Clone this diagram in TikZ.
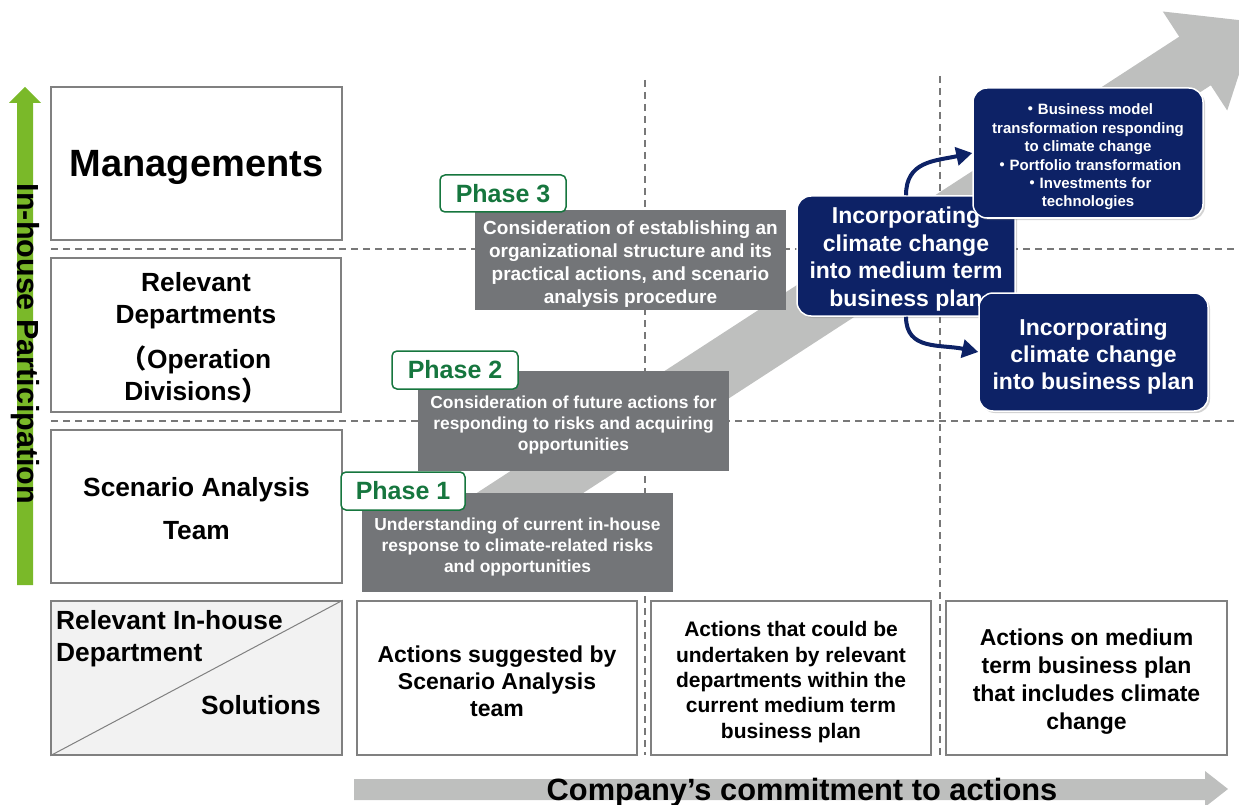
\documentclass[tikz,border=0pt]{standalone}
\usepackage{fontspec}
\setmainfont{Liberation Sans}
\newfontfamily\cjk{Noto Sans CJK JP}
\usetikzlibrary{arrows.meta,shadows}
\definecolor{boxgray}{RGB}{128,128,128}
\definecolor{dashgray}{RGB}{120,120,120}
\definecolor{phasegray}{RGB}{115,117,120}
\definecolor{phasegreen}{RGB}{22,118,62}
\definecolor{leafgreen}{RGB}{122,185,41}
\definecolor{navy}{RGB}{13,34,102}
\definecolor{arrowgray}{RGB}{190,191,190}
\definecolor{cellgray}{RGB}{242,242,242}
\tikzset{
  lbox/.style={draw=boxgray, line width=1.5pt, fill=white, inner sep=0pt},
  txt/.style={inner sep=0pt, align=center},
  dashline/.style={draw=dashgray, line width=1.3pt, dash pattern=on 7pt off 5pt},
  pgray/.style={fill=phasegray, inner sep=0pt},
  wtxt/.style={txt, text=white},
  plabel/.style={draw=phasegreen, line width=1.5pt, fill=white, rounded corners=5pt, text=phasegreen, inner sep=0pt, font={\fontsize{25}{30}\selectfont\bfseries}},
  nbox/.style={fill=navy, draw=white, line width=1.5pt, rounded corners=14pt, inner sep=0pt, drop shadow={opacity=0.35, shadow xshift=2pt, shadow yshift=-2pt}},
  navyarr/.style={draw=navy, line width=4pt, -{Triangle[length=16pt,width=18pt]}},
  fbig/.style={font={\fontsize{38}{44}\selectfont\bfseries}},
  fleft/.style={font={\fontsize{26.3}{32}\selectfont\bfseries}},
}
\begin{document}
\begin{tikzpicture}[x=1pt,y=-1pt]
\useasboundingbox (0,0) rectangle (1239,805);
\clip (0,0) rectangle (1239,805);
% big diagonal arrow
\fill[arrowgray] (457.2,505.7) -- (1179.2,36.7) -- (1162.8,11.5) -- (1256,22) -- (1227.2,110.5) -- (1210.8,85.3) -- (488.8,554.3) -- cycle;
% green vertical arrow
\fill[leafgreen] (17,585) -- (17,103) -- (9,103) -- (25,87) -- (41,103) -- (33,103) -- (33,585) -- cycle;
% dashed grid
\draw[dashline] (51,249) -- (1239,249);
\draw[dashline] (51,421) -- (1239,421);
\draw[dashline] (645,80) -- (645,755);
\draw[dashline] (940,76) -- (940,755);
% left column
\node[lbox, minimum width=291pt, minimum height=153pt] (mgmt) at (196.5,163.5) {};
\node[txt, fbig] (mgmtT) at ([yshift=-4pt]mgmt.center) {Managements};
\node[lbox, minimum width=290pt, minimum height=154pt] (rel) at (196,335) {};
\node[txt, fleft] (relT) at ([yshift=-3pt]rel.center) {Relevant\\Departments\\[13pt]{\cjk （}Operation\\Divisions{\cjk ）}};
\node[lbox, minimum width=291pt, minimum height=153pt] (scen) at (196.5,506.5) {};
\node[txt, fleft] (scenT) at ([yshift=-2pt]scen.center) {Scenario Analysis\\[11pt]Team};
% bottom row
\node[lbox, fill=cellgray, minimum width=291pt, minimum height=154pt] (corner) at (196.5,678) {};
\draw[boxgray, line width=1pt] (corner.south west) -- (corner.north east);
\node[fleft, anchor=north west, align=left, inner sep=0pt] (dept) at (56,610) {Relevant In-house\\Department};
\node[fleft, anchor=east, inner sep=0pt] (sol) at (321,705) {Solutions};
\node[lbox, minimum width=280pt, minimum height=154pt] (b2) at (497,678) {};
\node[txt, font={\fontsize{23}{27}\selectfont\bfseries}] (b2T) at ([yshift=-3pt]b2.center) {Actions suggested by\\Scenario Analysis\\team};
\node[lbox, minimum width=280pt, minimum height=154pt] (b3) at (791,678) {};
\node[txt, font={\fontsize{21}{25.3}\selectfont\bfseries}] (b3T) at ([yshift=-4pt]b3.center) {Actions that could be\\undertaken by relevant\\departments within the\\current medium term\\business plan};
\node[lbox, minimum width=281pt, minimum height=154pt] (b4) at (1086.5,678) {};
\node[txt, font={\fontsize{23}{28}\selectfont\bfseries}] (b4T) at ([yshift=-4pt]b4.center) {Actions on medium\\term business plan\\that includes climate\\change};
% bottom arrow
\fill[arrowgray] (354,779) -- (1205,779) -- (1205,771) -- (1228,789) -- (1205,807) -- (1205,800) -- (354,800) -- cycle;
\node[anchor=base, inner sep=0pt, font={\fontsize{30.8}{36}\selectfont\bfseries}] (commit) at (802,800) {Company’s commitment to actions};
% phases
\node[pgray, minimum width=311pt, minimum height=100pt] (p3) at (630.5,260) {};
\node[wtxt, font={\fontsize{19}{23}\selectfont\bfseries}] (p3T) at ([yshift=-4pt]p3.center) {Consideration of establishing an\\organizational structure and its\\practical actions, and scenario\\analysis procedure};
\node[plabel, minimum width=126pt, minimum height=37pt] (l3) at (503,193.5) {Phase 3};
\node[pgray, minimum width=311pt, minimum height=100pt] (p2) at (573.5,421) {};
\node[wtxt, font={\fontsize{17.4}{21}\selectfont\bfseries}] (p2T) at ([yshift=-4pt]p2.center) {Consideration of future actions for\\responding to risks and acquiring\\opportunities};
\node[plabel, minimum width=126pt, minimum height=38pt] (l2) at (455,370) {Phase 2};
\node[pgray, minimum width=311pt, minimum height=99pt] (p1) at (517.5,542.5) {};
\node[wtxt, font={\fontsize{17.4}{21}\selectfont\bfseries}] (p1T) at ([yshift=-4pt]p1.center) {Understanding of current in-house\\response to climate-related risks\\and opportunities};
\node[plabel, minimum width=124pt, minimum height=38pt] (l1) at (403,491) {Phase 1};
% navy boxes
\node[nbox, minimum width=218pt, minimum height=120pt] (med) at (906,256) {};
\node[wtxt, font={\fontsize{23}{27.5}\selectfont\bfseries}] (medT) at ([yshift=-3pt]med.center) {Incorporating\\climate change\\into medium term\\business plan};
\node[nbox, minimum width=230pt, minimum height=130pt] (tr) at (1088,153) {};
\node[wtxt, font={\fontsize{15}{18.4}\selectfont\bfseries}] (trT) at ([yshift=-4pt]tr.center) {{\cjk ・}Business model\\transformation responding\\to climate change\\{\cjk ・}Portfolio transformation\\{\cjk ・}Investments for\\technologies};
\node[nbox, minimum width=229pt, minimum height=118pt] (br) at (1093.5,352) {};
\node[wtxt, font={\fontsize{23}{27}\selectfont\bfseries}] (brT) at ([yshift=-5pt]br.center) {Incorporating\\climate change\\into business plan};
\draw[navyarr] (med.north) .. controls +(0,-34) and +(-38,8) .. (tr.west);
\draw[navyarr] (med.south) .. controls +(0,34) and +(-38,-8) .. (br.west);
% vertical label
\node[rotate=-90, inner sep=0pt, font={\fontsize{30.5}{36}\selectfont\bfseries}] (inhouse) at (25,344) {In-house Participation};
\end{tikzpicture}
\end{document}
